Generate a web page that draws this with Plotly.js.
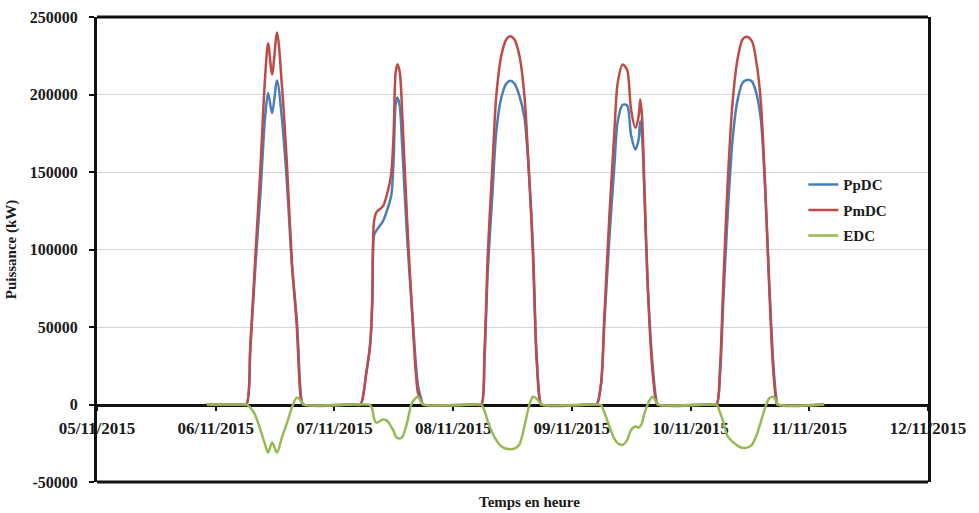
<!DOCTYPE html>
<html>
<head>
<meta charset="utf-8">
<script src="https://cdn.plot.ly/plotly-3.0.1.min.js"></script>
<style>html,body{margin:0;padding:0;background:#fff;}#chart{width:979px;height:513px;}</style>
</head>
<body>
<div id="chart"></div>
<script>
// Time stamps (shared by all three series)
const time = [
  '2015-11-05 22:12',
  '2015-11-06 05:00','2015-11-06 06:12','2015-11-06 07:00','2015-11-06 08:00','2015-11-06 09:00','2015-11-06 10:00',
  '2015-11-06 10:36','2015-11-06 11:24','2015-11-06 12:24','2015-11-06 13:24','2015-11-06 14:24','2015-11-06 15:24',
  '2015-11-06 16:24','2015-11-06 17:18','2015-11-06 17:42',
  '2015-11-07 04:00','2015-11-07 05:15','2015-11-07 06:27','2015-11-07 07:15','2015-11-07 07:39','2015-11-07 08:00',
  '2015-11-07 08:29','2015-11-07 09:49','2015-11-07 10:49','2015-11-07 11:30','2015-11-07 11:58','2015-11-07 12:22',
  '2015-11-07 12:43','2015-11-07 13:11','2015-11-07 13:44','2015-11-07 14:40','2015-11-07 15:45','2015-11-07 16:53',
  '2015-11-07 17:34','2015-11-07 17:56',
  '2015-11-08 04:30','2015-11-08 05:41','2015-11-08 06:20','2015-11-08 07:01','2015-11-08 07:54','2015-11-08 08:43',
  '2015-11-08 09:43','2015-11-08 10:44','2015-11-08 11:32','2015-11-08 12:24','2015-11-08 13:25','2015-11-08 14:25',
  '2015-11-08 15:18','2015-11-08 16:07','2015-11-08 16:48','2015-11-08 17:28','2015-11-08 17:48',
  '2015-11-09 04:00','2015-11-09 05:01','2015-11-09 05:55','2015-11-09 06:34','2015-11-09 07:35','2015-11-09 08:35',
  '2015-11-09 09:16','2015-11-09 10:16','2015-11-09 11:10','2015-11-09 11:58','2015-11-09 12:50','2015-11-09 13:30',
  '2015-11-09 13:50','2015-11-09 14:11','2015-11-09 14:39','2015-11-09 15:19','2015-11-09 16:13','2015-11-09 17:01',
  '2015-11-09 17:23',
  '2015-11-10 04:00','2015-11-10 05:15','2015-11-10 05:56','2015-11-10 06:36','2015-11-10 07:28','2015-11-10 08:29',
  '2015-11-10 09:29','2015-11-10 10:30','2015-11-10 11:23','2015-11-10 12:24','2015-11-10 13:20','2015-11-10 14:13',
  '2015-11-10 15:05','2015-11-10 15:53','2015-11-10 16:42','2015-11-10 17:22','2015-11-10 17:36',
  '2015-11-11 03:00'
];

// PpDC (blue)
const ppdc = [
  0,
  0,0,36000,88000,134000,186000,
  201000,188000,209000,184000,143000,90000,
  54500,4000,0,
  0,0,20500,39500,65000,109000,
  112200,118300,127000,135000,158000,193500,
  198000,193000,165000,109000,58500,12500,
  3500,0,
  0,0,29300,86900,133600,175900,
  197700,207000,208800,207000,199000,184900,
  150100,102900,37300,4700,0,
  0,0,13500,52000,107500,153300,
  182500,193400,193000,173800,164500,171000,
  182800,174000,137000,78500,29700,4100,
  0,
  0,0,17600,65300,120400,170600,
  196100,207500,209400,208400,200400,183600,
  138800,80300,27600,3300,0,
  0
];

// PmDC (red)
const pmdc = [
  0,
  0,0,38000,95000,150000,212000,
  233000,213000,240000,205000,155000,92000,
  50000,2000,0,
  0,0,20500,40000,68000,118000,
  124000,128000,138000,149500,175000,214000,
  219500,215000,186000,121000,57000,7500,
  2000,0,
  0,0,33300,97900,151600,198900,
  224700,235500,237600,235500,224700,198900,
  151600,97900,33300,3200,0,
  0,0,14000,57000,121500,175300,
  207500,219400,216000,190300,178500,186000,
  196800,186000,143000,78500,24700,2100,
  0,
  0,0,22600,76300,140800,194600,
  222600,235500,237200,234400,220400,194600,
  140800,76300,22600,1300,0,
  0
];

// EDC (green)
const edc = [
  0,
  0,0,-2000,-7000,-16000,-26000,
  -31000,-24500,-31000,-21000,-12000,-2000,
  4500,2000,0,
  0,0,0,-500,-3000,-9000,
  -11800,-9700,-11000,-14500,-17000,-20500,
  -21500,-22000,-21000,-12000,1500,5000,
  1500,0,
  0,0,-4000,-11000,-18000,-23000,
  -27000,-28500,-28800,-28500,-25700,-14000,
  -1500,5000,4000,1500,0,
  0,0,-500,-5000,-14000,-22000,
  -25000,-26000,-23000,-16500,-14000,-15000,
  -14000,-12000,-6000,0,5000,2000,
  0,
  0,0,-5000,-11000,-20400,-24000,
  -26500,-28000,-27800,-26000,-20000,-11000,
  -2000,4000,5000,2000,0,
  0
];

const seriesNames = ['PpDC','PmDC','EDC'];
const seriesColors = ['#4a7ebb','#be4b48','#98b954'];
const yTickVals = [-50000,0,50000,100000,150000,200000,250000];
const yTickText = ['-50000','0','50000','100000','150000','200000','250000'];
const xRange = ['2015-11-05 00:00','2015-11-12 00:00'];

const FONT = 'Liberation Serif, "Times New Roman", serif';
const values = [ppdc, pmdc, edc];
const traces = values.map((v,i)=>({
  type:'scatter', mode:'lines', x:time, y:v, name:seriesNames[i],
  legendgroup:'g'+i,
  line:{color:seriesColors[i], width:2.5, shape:'spline', smoothing:0.8},
  hoverinfo:'skip'
}));

const layout = {
  width:979, height:513,
  margin:{l:97, r:51, t:17, b:31},
  paper_bgcolor:'#ffffff', plot_bgcolor:'#ffffff',
  font:{family:FONT, color:'#1a1a1a', size:15, weight:700},
  showlegend:true,
  legend:{x:0.85, y:0.675, xanchor:'left', yanchor:'top', bgcolor:'rgba(0,0,0,0)',
          font:{family:FONT, size:15, weight:700, color:'#1a1a1a'}, tracegroupgap:3},
  xaxis:{
    type:'date', range:xRange, dtick:86400000, tick0:'2015-11-05 00:00', tickformat:'%d/%m/%Y',
    anchor:'free', position:1/6, showline:true, linecolor:'#111', linewidth:3,
    ticks:'outside', ticklen:4, tickwidth:2, tickcolor:'#111', ticklabelstandoff:3,
    showgrid:false, zeroline:false, layer:'below traces',
    tickfont:{family:FONT, size:17, weight:700, color:'#1a1a1a'}
  },
  yaxis:{
    range:[-50000,250000], tickmode:'array', tickvals:yTickVals, ticktext:yTickText,
    showline:true, linecolor:'#111', linewidth:3, mirror:true,
    ticks:'outside', ticklen:5, tickwidth:2, tickcolor:'#111', ticklabelstandoff:8,
    showgrid:true, gridcolor:'#d4d4d4', gridwidth:1, zeroline:false, domain:[0,1],
    tickfont:{family:FONT, size:16, weight:700, color:'#1a1a1a'},
    title:{text:'Puissance (kW)', standoff:10, font:{family:FONT, size:15, weight:700, color:'#1a1a1a'}}
  },
  shapes:[
    {type:'line', xref:'paper', yref:'paper', x0:0, x1:1, y0:1, y1:1, line:{color:'#111', width:3}},
    {type:'line', xref:'paper', yref:'paper', x0:0, x1:1, y0:0, y1:0, line:{color:'#111', width:3}}
  ],
  annotations:[
    {text:'Temps en heure', xref:'paper', yref:'paper', x:0.52, y:-0.043, xanchor:'center', yanchor:'middle',
     showarrow:false, font:{family:FONT, size:15, weight:700, color:'#1a1a1a'}}
  ]
};

Plotly.newPlot('chart', traces, layout, {displayModeBar:false, staticPlot:true});
</script>
</body>
</html>
